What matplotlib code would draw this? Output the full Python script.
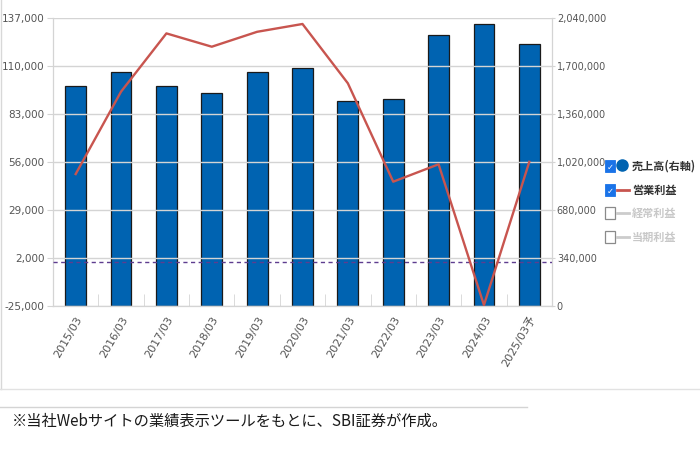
"""Sales (right axis) vs operating profit (left axis), FY2015-FY2025 forecast."""
import matplotlib
matplotlib.use("Agg")
import matplotlib.pyplot as plt
from matplotlib.lines import Line2D
from matplotlib.patches import Rectangle

plt.rcParams["font.family"] = ["DejaVu Sans Condensed", "DejaVu Sans", "Noto Sans CJK JP"]

periods = ["2015/03", "2016/03", "2017/03", "2018/03", "2019/03", "2020/03",
           "2021/03", "2022/03", "2023/03", "2024/03", "2025/03予"]
sales = [1558000, 1657000, 1558000, 1510000, 1657000, 1688000,
         1452000, 1470000, 1924000, 2002000, 1856000]
operating_profit = [49300, 95700, 128500, 121000, 129400, 133800,
                    100400, 45000, 54800, -24500, 56200]
left_ticks = [-25000, 2000, 29000, 56000, 83000, 110000, 137000]
right_ticks = [0, 340000, 680000, 1020000, 1360000, 1700000, 2040000]
legend_labels = ["売上高(右軸)", "営業利益", "経常利益", "当期利益"]
legend_active = [True, True, False, False]
footnote = "※当社Webサイトの業績表示ツールをもとに、SBI証券が作成。"

W, H = 700, 453
BLUE = "#0063B1"
RED = "#C8554F"
GRID = "#D4D4D4"
TICK = "#555555"
CJK = ["Noto Sans CJK JP", "DejaVu Sans"]

fig = plt.figure(figsize=(W / 100, H / 100), dpi=100)
ax = fig.add_axes([53 / W, 1 - 306 / H, (552 - 53) / W, (306 - 18.3) / H])
ax2 = ax.twinx()

x = list(range(len(periods)))
# bars belong to the right axis, drawn on ax2 then pushed below the line
ax2.bar(x, sales, width=0.46, color=BLUE, edgecolor="#1A1A1A", lw=0.9, zorder=2)
ax2.set_ylim(right_ticks[0], right_ticks[-1])
ax2.set_yticks(right_ticks, [f"{v:,}" for v in right_ticks])

ax.set_ylim(left_ticks[0], left_ticks[-1])
ax.set_yticks(left_ticks, [f"{v:,}" for v in left_ticks])
ax.set_xlim(-0.5, len(periods) - 0.5)
ax.set_xticks(x, periods, rotation=60, ha="right", rotation_mode="anchor")
ax.set_xticks([i + 0.5 for i in x[:-1]], minor=True)
ax.tick_params(axis="x", which="major", length=0, pad=6, colors=TICK, labelsize=8)
ax.tick_params(axis="x", which="minor", direction="in", length=9, color=GRID)
ax.tick_params(axis="y", length=4, color=GRID, colors=TICK, labelsize=7.5, pad=2)
ax2.tick_params(axis="y", length=2.5, color=GRID, colors=TICK, labelsize=7, pad=1)
for a in (ax, ax2):
    for s in a.spines.values():
        s.set_color(GRID)
    a.spines["top"].set_visible(False)
ax.yaxis.grid(True, color=GRID, lw=1)
ax.set_axisbelow(True)

# put the line axis on top of the bar axis
ax.set_zorder(ax2.get_zorder() + 1)
ax.patch.set_visible(False)
ax.plot(x, operating_profit, color=RED, lw=1.7, zorder=4)
ax.axhline(0, color="#5E3D8F", lw=1.0, ls=(0, (3, 2.5)), zorder=3)

# hand-made legend with checkboxes
rows_y = [166, 190, 213, 237]
for label, on, y in zip(legend_labels, legend_active, rows_y):
    yf = 1 - y / H
    if on:
        fig.patches.append(Rectangle((605 / W, 1 - (y + 6) / H), 10 / W, 12 / H,
                                     transform=fig.transFigure, facecolor="#1A73E8",
                                     edgecolor="#1A73E8", lw=0.6))
        fig.text(610 / W, yf - 1 / H, "✓", color="white", fontsize=6,
                 fontweight="bold", ha="center", va="center", family="DejaVu Sans")
    else:
        fig.patches.append(Rectangle((605 / W, 1 - (y + 6) / H), 10 / W, 12 / H,
                                     transform=fig.transFigure, facecolor="white",
                                     edgecolor="#8A8A8A", lw=0.9))
    if label == legend_labels[0]:
        fig.lines.append(Line2D([622 / W], [yf + 1 / H], marker="o", ms=8,
                                color=BLUE, transform=fig.transFigure))
    else:
        fig.lines.append(Line2D([617 / W, 629 / W], [yf, yf], lw=2,
                                color=RED if on else "#CCCCCC",
                                transform=fig.transFigure))
    fig.text(632 / W, yf, label, fontsize=8, fontweight="bold",
             color="#333333" if on else "#C8C8C8", va="center", family=CJK)

# frame and footnote
fig.lines.append(Line2D([0.7 / W, 0.7 / W], [1, 1 - 389 / H], color="#D8D8D8",
                        lw=1, transform=fig.transFigure))
fig.lines.append(Line2D([0, 1], [1 - 389 / H, 1 - 389 / H], color="#E2E2E2",
                        lw=1, transform=fig.transFigure))
fig.lines.append(Line2D([0, 527 / W], [1 - 407 / H, 1 - 407 / H], color="#D4D4D4",
                        lw=1, transform=fig.transFigure))
fig.text(12 / W, 1 - 421 / H, footnote, fontsize=11, color="#1A1A1A",
         va="center", family=CJK)

fig.savefig("out.png", dpi=100)
